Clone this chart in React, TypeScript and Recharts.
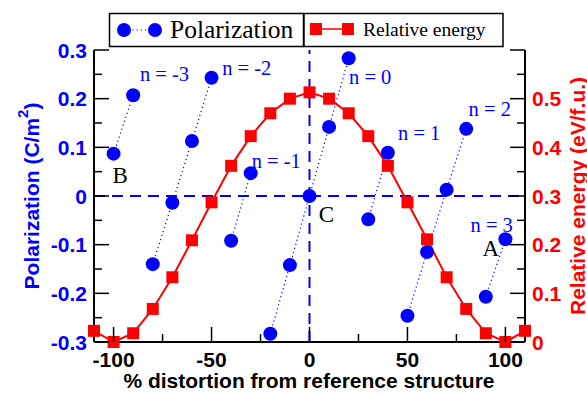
import React from 'react';
import { ComposedChart, Line, XAxis, YAxis, ReferenceLine, ReferenceDot } from 'recharts';

const W = 587;
const H = 393;
const BLUE = '#0000ff';
const RED = '#ff0000';
const SANS = '"Liberation Sans", Arial, Helvetica, sans-serif';
const SERIF = '"Liberation Serif", "Times New Roman", serif';

// Relative energy curve
const distortion = [-110, -100, -90, -80, -70, -60, -50, -40, -30, -20, -10, 0, 10, 20, 30, 40, 50, 60, 70, 80, 90, 100, 110];
const relativeEnergy = [0.023, 0, 0.018, 0.068, 0.133, 0.209, 0.287, 0.362, 0.423, 0.47, 0.5, 0.513, 0.5, 0.47, 0.423, 0.362, 0.287, 0.211, 0.133, 0.068, 0.018, 0, 0.023];

// Polarization branches
const branchNames = ['n = -3', 'n = -2', 'n = -1', 'n = 0', 'n = 1', 'n = 2', 'n = 3'];
const branchDistortion = [[-100, -90], [-80, -70, -60, -50], [-40, -30], [-20, -10, 0, 10, 20], [30, 40], [50, 60, 70, 80], [90, 100]];
const branchPolarization = [[0.087, 0.207], [-0.14, -0.014, 0.113, 0.243], [-0.092, 0.047], [-0.283, -0.142, 0, 0.142, 0.283], [-0.048, 0.089], [-0.246, -0.115, 0.013, 0.138], [-0.207, -0.089]];
const branchLabelX = [-74, -32, -17, 31, 56, 92, 93];
const branchLabelY = [0.25, 0.263, 0.072, 0.244, 0.129, 0.179, -0.06];

// Structure labels
const pointNames = ['A', 'B', 'C'];
const pointLabelX = [92.6, -96.7, 8.7];
const pointLabelY = [-0.107, 0.043, -0.039];

// Ticks
const xTicks = [-100, -75, -50, -25, 0, 25, 50, 75, 100];
const pTicks = [-0.3, -0.25, -0.2, -0.15, -0.1, -0.05, 0, 0.05, 0.1, 0.15, 0.2, 0.25, 0.3];
const eTicks = [0, 0.05, 0.1, 0.15, 0.2, 0.25, 0.3, 0.35, 0.4, 0.45, 0.5, 0.55, 0.6];
const eLabelMax = 0.5;

const energyData = distortion.map((x, i) => ({ x, e: relativeEnergy[i] }));
const branchData = branchDistortion.map((xs, b) => xs.map((x, i) => ({ x, p: branchPolarization[b][i] })));

const MAJOR = 15;
const MINOR = 8;
const isMajorTenth = (v: number) => Math.abs(v * 10 - Math.round(v * 10)) < 1e-6;
const fmt = (v: number) => (Math.abs(v) < 1e-9 ? '0' : v.toFixed(1));

const tickText = { fontFamily: SANS, fontWeight: 700, fontSize: 21 } as const;

const LeftTick = (props: any) => {
  const { x, y, payload } = props;
  const v = payload.value;
  const major = isMajorTenth(v);
  const ax = x + 7;
  return (
    <g>
      <line x1={ax} x2={ax + (major ? MAJOR : MINOR)} y1={y} y2={y} stroke="#000" strokeWidth={1.5} />
      {major && (
        <text x={x} y={y} textAnchor="end" dominantBaseline="central" fill={BLUE} {...tickText}>
          {fmt(v)}
        </text>
      )}
    </g>
  );
};

const RightTick = (props: any) => {
  const { x, y, payload } = props;
  const v = payload.value;
  const major = isMajorTenth(v);
  const ax = x - 7;
  return (
    <g>
      <line x1={ax} x2={ax - (major ? MAJOR : MINOR)} y1={y} y2={y} stroke="#000" strokeWidth={1.5} />
      {major && v <= eLabelMax + 1e-9 && (
        <text x={x} y={y} textAnchor="start" dominantBaseline="central" fill={RED} {...tickText}>
          {fmt(v)}
        </text>
      )}
    </g>
  );
};

const BottomTick = (props: any) => {
  const { x, y, payload } = props;
  const v = payload.value;
  const major = v % 50 === 0;
  return (
    <g>
      <line x1={x} x2={x} y1={y} y2={y - (major ? MAJOR : MINOR)} stroke="#000" strokeWidth={1.5} />
      {major && (
        <text x={x} y={y + 25} textAnchor="middle" fill="#000" {...tickText}>
          {String(v)}
        </text>
      )}
    </g>
  );
};

const TopTick = (props: any) => {
  const { x, y, payload } = props;
  const v = payload.value;
  const major = v % 50 === 0;
  return <line x1={x} x2={x} y1={y} y2={y + (major ? MAJOR : MINOR)} stroke="#000" strokeWidth={1.5} />;
};

const circleDot = (props: any) => {
  const { cx, cy, index, key } = props;
  if (cx == null || cy == null) return <g key={key ?? index} />;
  return <circle key={key ?? `c${index}`} cx={cx} cy={cy} r={7} fill={BLUE} stroke="none" />;
};

const squareDot = (props: any) => {
  const { cx, cy, index, key } = props;
  if (cx == null || cy == null) return <g key={key ?? index} />;
  return <rect key={key ?? `s${index}`} x={cx - 6} y={cy - 6} width={12} height={12} fill={RED} stroke="none" />;
};

const makeTextShape = (text: string, color: string, size: number) => (p: any) => (
  <text
    x={p.cx}
    y={p.cy}
    textAnchor="middle"
    dominantBaseline="central"
    fontFamily={SERIF}
    fontSize={size}
    fill={color}
  >
    {text}
  </text>
);

const Overlay = () => (
  <svg width={W} height={H} style={{ position: 'absolute', left: 0, top: 0, pointerEvents: 'none' }}>
    {/* legend */}
    <rect x={109.5} y={13.5} width={194} height={33} fill="#fff" stroke="#000" strokeWidth={1.5} />
    <line x1={124} x2={155} y1={30} y2={30} stroke={BLUE} strokeWidth={1.2} strokeDasharray="1.2 3" />
    <circle cx={124} cy={30} r={7} fill={BLUE} />
    <circle cx={155} cy={30} r={7} fill={BLUE} />
    <text x={170} y={38} fontFamily={SERIF} fontSize={25.5} fill="#000">Polarization</text>
    <rect x={304} y={13.5} width={199} height={33} fill="#fff" stroke="#000" strokeWidth={1.5} />
    <line x1={316} x2={348} y1={29} y2={29} stroke={RED} strokeWidth={1.5} />
    <rect x={310} y={23} width={12} height={12} fill={RED} />
    <rect x={342} y={23} width={12} height={12} fill={RED} />
    <text x={363} y={36} fontFamily={SERIF} fontSize={19.5} fill="#000">Relative energy</text>
    {/* axis titles */}
    <text
      transform="translate(31,196) rotate(-90)"
      textAnchor="middle"
      dominantBaseline="central"
      fontFamily={SANS}
      fontWeight={700}
      fontSize={21}
      fill={BLUE}
    >
      Polarization (C/m<tspan fontSize={15} dy={-9}>2</tspan><tspan dy={9}>)</tspan>
    </text>
    <text
      transform="translate(577,196) rotate(-90)"
      textAnchor="middle"
      dominantBaseline="central"
      fontFamily={SANS}
      fontWeight={700}
      fontSize={21}
      fill={RED}
    >
      Relative energy (eV/f.u.)
    </text>
    <text x={309} y={388} textAnchor="middle" fontFamily={SANS} fontWeight={700} fontSize={21} fill="#000">
      % distortion from reference structure
    </text>
  </svg>
);

export default function App() {
  return (
    <div style={{ position: 'absolute', left: 0, top: 0, width: W, height: H, background: '#fff' }}>
      <ComposedChart width={W} height={H} data={energyData} margin={{ top: 50, right: 4, bottom: 4, left: 4 }}>
        <XAxis
          dataKey="x"
          type="number"
          domain={[-110, 110]}
          ticks={xTicks}
          interval={0}
          height={47}
          tickSize={0}
          tickMargin={0}
          tickLine={false}
          axisLine={{ stroke: '#000', strokeWidth: 2 }}
          tick={<BottomTick />}
        />
        <XAxis
          xAxisId="top"
          orientation="top"
          dataKey="x"
          type="number"
          domain={[-110, 110]}
          ticks={xTicks}
          interval={0}
          height={0}
          tickSize={0}
          tickMargin={0}
          tickLine={false}
          axisLine={{ stroke: '#000', strokeWidth: 2 }}
          tick={<TopTick />}
        />
        <YAxis
          yAxisId="p"
          type="number"
          domain={[-0.3, 0.3]}
          ticks={pTicks}
          interval={0}
          width={90}
          tickSize={0}
          tickMargin={7}
          tickLine={false}
          axisLine={{ stroke: '#000', strokeWidth: 2 }}
          tick={<LeftTick />}
        />
        <YAxis
          yAxisId="e"
          orientation="right"
          type="number"
          domain={[0, 0.6]}
          ticks={eTicks}
          interval={0}
          width={58}
          tickSize={0}
          tickMargin={7}
          tickLine={false}
          axisLine={{ stroke: '#000', strokeWidth: 2 }}
          tick={<RightTick />}
        />
        <ReferenceLine yAxisId="p" y={0} stroke={BLUE} strokeWidth={2} strokeDasharray="11 7" />
        <ReferenceLine yAxisId="p" x={0} stroke={BLUE} strokeWidth={2} strokeDasharray="11 7" />
        {branchData.map((d, b) => (
          <Line
            key={branchNames[b]}
            name={branchNames[b]}
            yAxisId="p"
            data={d}
            dataKey="p"
            type="linear"
            stroke={BLUE}
            strokeWidth={1.2}
            strokeDasharray="1.2 3"
            dot={circleDot}
            activeDot={false}
            isAnimationActive={false}
            legendType="none"
          />
        ))}
        <Line
          yAxisId="e"
          dataKey="e"
          name="Relative energy"
          type="linear"
          stroke={RED}
          strokeWidth={2}
          dot={squareDot}
          activeDot={false}
          isAnimationActive={false}
        />
        {branchNames.map((name, i) => (
          <ReferenceDot
            key={name}
            yAxisId="p"
            x={branchLabelX[i]}
            y={branchLabelY[i]}
            r={1}
            ifOverflow="visible"
            shape={makeTextShape(name, BLUE, 20.5)}
          />
        ))}
        {pointNames.map((name, i) => (
          <ReferenceDot
            key={name}
            yAxisId="p"
            x={pointLabelX[i]}
            y={pointLabelY[i]}
            r={1}
            ifOverflow="visible"
            shape={makeTextShape(name, '#000', 23)}
          />
        ))}
      </ComposedChart>
      <Overlay />
    </div>
  );
}
